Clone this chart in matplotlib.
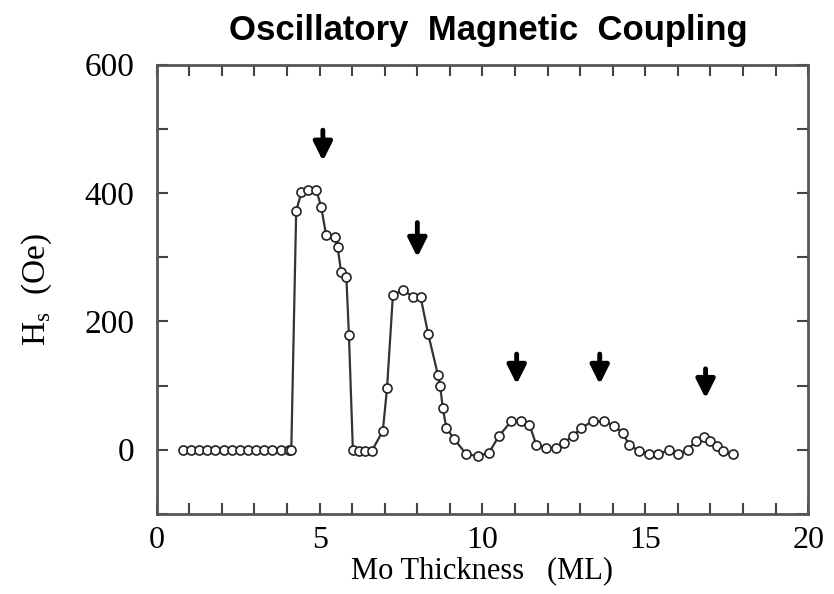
import matplotlib.pyplot as plt
from matplotlib.ticker import MultipleLocator

# Mo spacer thickness (ML) and saturation field Hs (Oe)
thickness = [0.8, 1.05, 1.3, 1.55, 1.8, 2.05, 2.3, 2.55, 2.8, 3.05, 3.3, 3.55,
             3.8, 4.05, 4.13, 4.28, 4.44, 4.63, 4.9, 5.05, 5.2, 5.46, 5.55,
             5.66, 5.82, 5.9, 6.02, 6.2, 6.4, 6.6, 6.94, 7.07, 7.25, 7.56,
             7.87, 8.1, 8.33, 8.63, 8.7, 8.78, 8.89, 9.14, 9.5, 9.86, 10.2,
             10.5, 10.88, 11.18, 11.44, 11.65, 11.95, 12.26, 12.5, 12.77,
             13.03, 13.38, 13.74, 14.05, 14.3, 14.5, 14.8, 15.1, 15.4, 15.74,
             16.0, 16.3, 16.55, 16.8, 17.0, 17.2, 17.4, 17.68]
hs = [0, 0, 0, 0, 0, 0, 0, 0, 0, 0, 0, 0,
      0, 0, 0, 372, 401, 404, 404, 378, 334, 332, 316,
      277, 269, 179, 0, -2, -2, -2, 29, 96, 241, 249,
      238, 238, 181, 117, 100, 65, 34, 16, -7, -10, -5,
      21, 44, 44, 39, 8, 3, 3, 11, 21,
      34, 44, 44, 37, 26, 8, -2, -7, -7, 0,
      -7, 0, 13, 19, 13, 6, -2, -7]

# arrows marking the coupling peaks: x position, tail and tip heights (Oe)
arrow_x = [5.1, 8.0, 11.05, 13.6, 16.85]
arrow_top = [498, 354, 149, 149, 126]
arrow_tip = [450, 300, 102, 102, 80]

serif = ['Liberation Serif', 'DejaVu Serif']

fig = plt.figure(figsize=(8.34, 5.94), dpi=100)
ax = fig.add_axes([0.188, 0.135, 0.781, 0.756])

ax.plot(thickness, hs, color='#333333', lw=1.6, marker='o', ms=6.5,
        mfc='white', mec='#222222', mew=1.2)

for x, top, tip in zip(arrow_x, arrow_top, arrow_tip):
    ax.annotate('', xy=(x, tip), xytext=(x, top),
                arrowprops=dict(arrowstyle='-|>', color='black', lw=3.5,
                                mutation_scale=28, shrinkA=0, shrinkB=0))

ax.set_xlim(0, 20)
ax.set_ylim(-100, 600)
ax.xaxis.set_major_locator(MultipleLocator(5))
ax.xaxis.set_minor_locator(MultipleLocator(1))
ax.yaxis.set_major_locator(MultipleLocator(200))
ax.yaxis.set_minor_locator(MultipleLocator(100))
ax.tick_params(which='both', direction='in', top=True, right=True,
               colors='#444444', labelcolor='black', width=1.5)
ax.tick_params(which='major', length=8)
ax.tick_params(which='minor', length=8)
ax.tick_params(axis='x', which='major', pad=9)
ax.tick_params(axis='y', which='major', pad=16)
for lab in ax.get_xticklabels():
    lab.set_family(serif)
    lab.set_fontsize(23)
for lab in ax.get_yticklabels():
    lab.set_family(serif)
    lab.set_fontsize(24)
for sp in ax.spines.values():
    sp.set_color('#555555')
    sp.set_linewidth(2)

ax.set_xlabel('Mo Thickness   (ML)', family=serif, fontsize=22, labelpad=1)
ax.set_ylabel('H$_\\mathregular{s}$  (Oe)', family=serif, fontsize=24,
              labelpad=22)
fig.text(0.586, 0.948, 'Oscillatory  Magnetic  Coupling',
         family=['Liberation Sans', 'DejaVu Sans'], weight='bold',
         fontsize=25, ha='center', va='center')

fig.savefig('out.png', dpi=100)
